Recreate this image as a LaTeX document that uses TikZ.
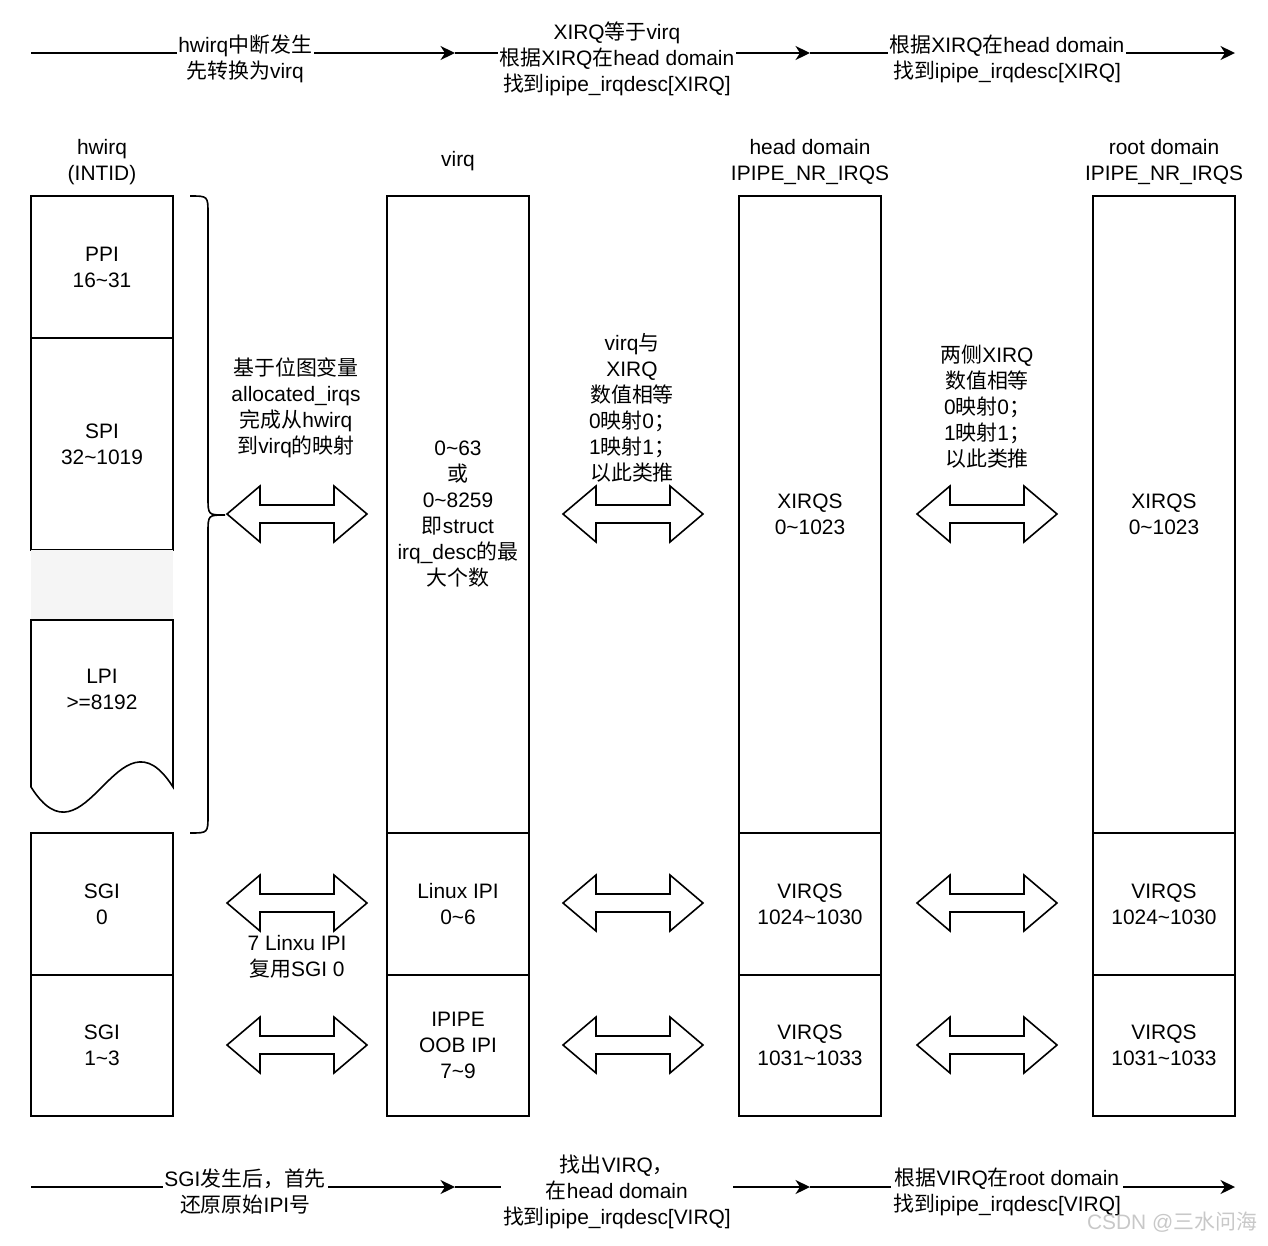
\documentclass[tikz,border=0pt]{standalone}
\usepackage{fontspec}
\setmainfont{Liberation Sans}
\newfontfamily\hanfont{Noto Sans CJK SC}
\usetikzlibrary{arrows.meta,positioning}
% switch to the CJK font for Han characters
\XeTeXinterchartokenstate=1
\newXeTeXintercharclass\hanclass
\newcount\hancode
\hancode="4E00
\loop
	\XeTeXcharclass\hancode=\hanclass
	\advance\hancode by 1
\ifnum\hancode<"A000 \repeat
\XeTeXcharclass"FF0C=\hanclass
\XeTeXcharclass"FF1B=\hanclass
\XeTeXinterchartoks 0 \hanclass = {\hanfont}
\XeTeXinterchartoks 4095 \hanclass = {\hanfont}
\XeTeXinterchartoks \hanclass 0 = {\rmfamily}
\XeTeXinterchartoks \hanclass 4095 = {\rmfamily}
\definecolor{gapgray}{HTML}{F5F5F5}
\definecolor{wmgray}{HTML}{C8C8C8}
\newcommand{\rng}{\textasciitilde}
\tikzset{
	txt/.style = {align=center, inner sep=0pt,
		font=\fontsize{11.9}{14.8}\selectfont},
	cell/.style = {txt, rectangle, draw=black, fill=white, line width=0.32mm,
		minimum width=2.84cm, outer sep=0pt},% one slot of a column
	colhead/.style = {txt},
	note/.style = {txt},
	lbl/.style = {txt, fill=white, inner sep=1pt},% text on a flow line
	flow/.style = {->, line width=0.32mm},
	blockarrow/.style = {draw=black, fill=white, line width=0.32mm, line join=miter},
	bracepath/.style = {line width=0.32mm},
	wmtext/.style = {txt, text=wmgray}
}
% double block arrow: start x, centre y
\newcommand{\dblarr}[2]{\draw[blockarrow] (#1,#2) -- ++(33,-28) -- ++(0,19) -- ++(74,0)
	-- ++(0,-19) -- ++(33,28) -- ++(-33,28) -- ++(0,-19) -- ++(-74,0) -- ++(0,19) -- cycle;}
\begin{document}
\begin{tikzpicture}[x=0.02cm, y=-0.02cm, >={Stealth[length=2.9mm, width=2.8mm, inset=0.9mm]}]
\useasboundingbox (0,0) rectangle (1268,1245);

% top flow
\coordinate (ta) at (31,53);
\coordinate (tb) at (455,53);
\coordinate (tc) at (810,53);
\coordinate (td) at (1235,53);
\draw[flow] (ta) -- node[lbl, pos=0.505, yshift=-1.2mm] (la) {hwirq中断发生\\先转换为virq} (tb);
\draw[flow] (tb) -- node[lbl, pos=0.456, yshift=-1.2mm] (lb) {XIRQ等于virq\\根据XIRQ在head domain\\找到ipipe\_irqdesc[XIRQ]} (tc);
\draw[flow] (tc) -- node[lbl, pos=0.4635, yshift=-1.2mm] (lc) {根据XIRQ在head domain\\找到ipipe\_irqdesc[XIRQ]} (td);

% column heads
\node[colhead] (hhw) at (102,162) {hwirq\\(INTID)};
\node[colhead] (hvirq) at (458,161) {virq};
\node[colhead] (hhead) at (810,162) {head domain\\IPIPE\_NR\_IRQS};
\node[colhead] (hroot) at (1164,162) {root domain\\IPIPE\_NR\_IRQS};

% hwirq column
\node[cell, minimum height=2.84cm] (ppi) at (102,267) {PPI\\16\rng31};
\node[cell, minimum height=4.24cm, below=0pt of ppi] (spi) {SPI\\32\rng1019};
\fill[gapgray] (spi.south west) rectangle ++(142,70);
\draw[line width=0.32mm, fill=white] (31,620) -- (31,787) .. controls (86,874) and (118,700) .. (173,787) -- (173,620) -- cycle;
\node[txt] (lpi) at (102,689) {LPI\\>=8192};
\node[cell, minimum height=2.84cm] (sgi0) at (102,904) {SGI\\0};
\node[cell, minimum height=2.82cm, below=0pt of sgi0] (sgi13) {SGI\\1\rng3};

% virq column
\node[cell, minimum height=12.74cm] (vmain) at (458,514.5) {0\rng63\\或\\0\rng8259\\即struct\\irq\_desc的最\\大个数};
\node[cell, minimum height=2.84cm, below=0pt of vmain] (vlinux) {Linux IPI\\0\rng6};
\node[cell, minimum height=2.82cm, below=0pt of vlinux] (voob) {IPIPE\\OOB IPI\\7\rng9};

% head domain column
\node[cell, minimum height=12.74cm] (hmain) at (810,514.5) {XIRQS\\0\rng1023};
\node[cell, minimum height=2.84cm, below=0pt of hmain] (hv1) {VIRQS\\1024\rng1030};
\node[cell, minimum height=2.82cm, below=0pt of hv1] (hv2) {VIRQS\\1031\rng1033};

% root domain column
\node[cell, minimum height=12.74cm] (rmain) at (1164,514.5) {XIRQS\\0\rng1023};
\node[cell, minimum height=2.84cm, below=0pt of rmain] (rv1) {VIRQS\\1024\rng1030};
\node[cell, minimum height=2.82cm, below=0pt of rv1] (rv2) {VIRQS\\1031\rng1033};

% brace round the hwirq ranges
\draw[bracepath] (190,196) .. controls (208,196) .. (208,214) -- (208,497)
	.. controls (208,515) .. (225,515) .. controls (208,515) .. (208,533)
	-- (208,815) .. controls (208,833) .. (190,833);

% double arrows
\dblarr{227}{514}
\dblarr{563}{514}
\dblarr{917}{514}
\dblarr{227}{903}
\dblarr{563}{903}
\dblarr{917}{903}
\dblarr{227}{1045}
\dblarr{563}{1045}
\dblarr{917}{1045}

% notes
\node[note] (map1) at (296,408) {基于位图变量\\allocated\_irqs\\完成从hwirq\\到virq的映射};
\node[note] (map2) at (632,408) {virq与\\XIRQ\\数值相等\\0映射0；\\1映射1；\\以此类推};
\node[note] (map3) at (987,407) {两侧XIRQ\\数值相等\\0映射0；\\1映射1；\\以此类推};
\node[note] (share) at (297,957) {7 Linxu IPI\\复用SGI 0};

% bottom flow
\coordinate (ba) at (31,1187);
\coordinate (bb) at (455,1187);
\coordinate (bc) at (810,1187);
\coordinate (bd) at (1235,1187);
\draw[flow] (ba) -- node[lbl, pos=0.505, yshift=-1.0mm] (lba) {SGI发生后，首先\\还原原始IPI号} (bb);
\draw[flow] (bb) -- node[lbl, pos=0.456, yshift=-1.0mm] (lbb) {找出VIRQ，\\在head domain\\找到ipipe\_irqdesc[VIRQ]} (bc);
\draw[flow] (bc) -- node[lbl, pos=0.4635, yshift=-1.0mm] (lbc) {根据VIRQ在root domain\\找到ipipe\_irqdesc[VIRQ]} (bd);

\node[wmtext] (wm) at (1172,1222) {CSDN @三水问海};
\end{tikzpicture}
\end{document}
